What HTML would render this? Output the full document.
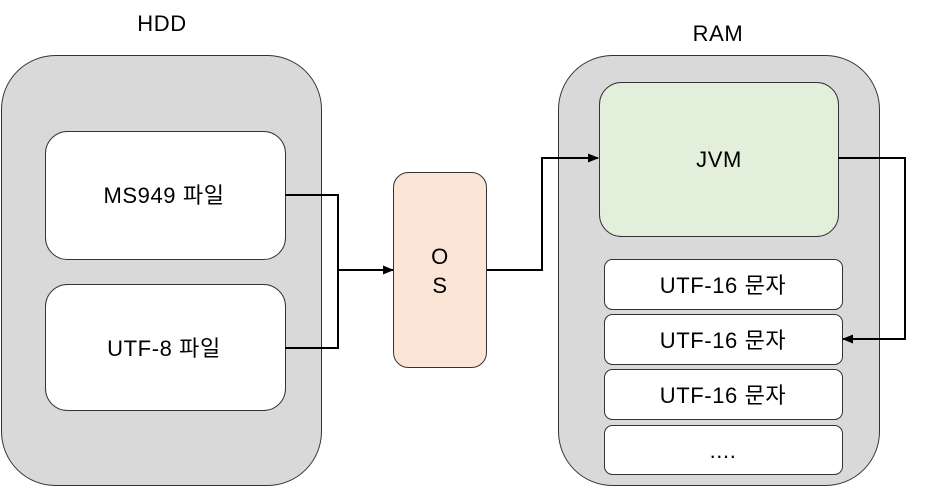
<!DOCTYPE html>
<html><head><meta charset="utf-8"><style>
body{margin:0;background:#fff;}
</style></head><body>
<svg width="933" height="487" xmlns="http://www.w3.org/2000/svg" style="display:block;font-family:'Liberation Sans','Noto Sans CJK KR',sans-serif;font-size:22px;letter-spacing:0.6px">
<defs><marker id="a" markerWidth="11" markerHeight="9" refX="10" refY="4.5" orient="auto" markerUnits="userSpaceOnUse"><path d="M0,0 L11,4.5 L0,9 Z" fill="#000"/></marker></defs>
<text x="162" y="31" text-anchor="middle">HDD</text>
<text x="718" y="41" text-anchor="middle">RAM</text>
<rect x="1.5" y="55.5" width="320" height="430" rx="54" fill="#d9d9d9" stroke="#333"/>
<rect x="45.5" y="131.5" width="240" height="128" rx="22" fill="#fff" stroke="#333"/>
<text x="164" y="203" text-anchor="middle">MS949 파일</text>
<rect x="45.5" y="284.5" width="240" height="126" rx="22" fill="#fff" stroke="#333"/>
<text x="164" y="356" text-anchor="middle">UTF-8 파일</text>
<rect x="393.5" y="172.5" width="93" height="195" rx="15" fill="#fae5d6" stroke="#333"/>
<text x="440" y="264" text-anchor="middle">O</text>
<text x="440" y="293" text-anchor="middle">S</text>
<rect x="558.5" y="55.5" width="321" height="430" rx="54" fill="#d9d9d9" stroke="#333"/>
<rect x="599.5" y="82.5" width="239" height="154" rx="22" fill="#e1efdb" stroke="#333"/>
<text x="719" y="167" text-anchor="middle">JVM</text>
<rect x="604.5" y="259.5" width="238" height="50" rx="8" fill="#fff" stroke="#333"/>
<text x="723" y="293" text-anchor="middle">UTF-16 문자</text>
<rect x="604.5" y="314.5" width="238" height="50" rx="8" fill="#fff" stroke="#333"/>
<text x="723" y="348" text-anchor="middle">UTF-16 문자</text>
<rect x="604.5" y="369.5" width="238" height="50" rx="8" fill="#fff" stroke="#333"/>
<text x="723" y="403" text-anchor="middle">UTF-16 문자</text>
<rect x="604.5" y="425.5" width="238" height="49" rx="8" fill="#fff" stroke="#333"/>
<text x="723" y="458" text-anchor="middle">....</text>
<g fill="none" stroke="#000" stroke-width="2">
<polyline points="285,195 338,195 338,348 285,348"/>
<line x1="338" y1="270" x2="393" y2="270" marker-end="url(#a)"/>
<polyline points="487,270 542,270 542,158 598,158" marker-end="url(#a)"/>
<polyline points="838,158 905,158 905,339 843,339" marker-end="url(#a)"/>
</g>
</svg>
</body></html>
